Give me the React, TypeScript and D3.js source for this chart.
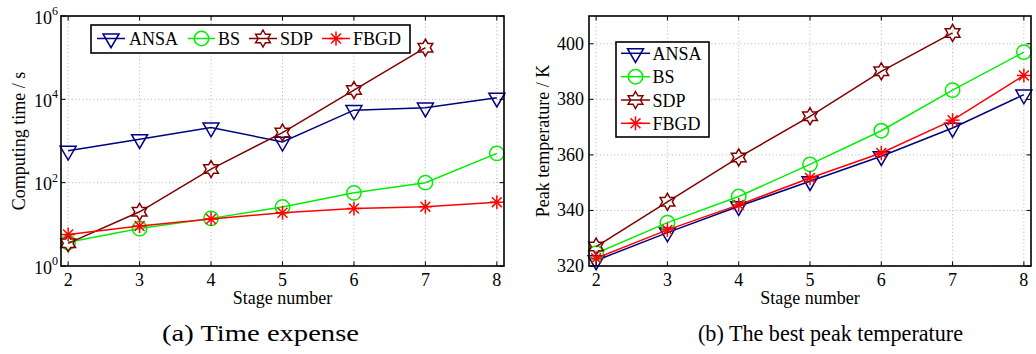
import React from "react";
import * as d3 from "d3";

// Stage numbers on the x axis
const stages = [2, 3, 4, 5, 6, 7, 8];
const sdpStages = [2, 3, 4, 5, 6, 7];

// (a) Computing time in seconds
const timeANSA = [580, 1100, 2100, 950, 5500, 6300, 10900];
const timeBS = [3.7, 7.9, 13.9, 26, 57, 100, 505];
const timeSDP = [3.5, 20, 212, 1590, 16700, 174000];
const timeFBGD = [5.7, 9.1, 13.4, 19, 24, 26.5, 34];

// (b) Best peak temperature in kelvin
const tempANSA = [322, 332, 341.5, 350.5, 359.5, 369.7, 381.7];
const tempBS = [324.6, 335.6, 345, 356.6, 368.7, 383.3, 397];
const tempSDP = [327, 343.1, 359.1, 373.9, 390.1, 403.9];
const tempFBGD = [322.8, 333, 342, 351.7, 360.7, 372.5, 388.6];

// Tick values
const timeExponents = [0, 2, 4, 6];
const tempTicks = [320, 340, 360, 380, 400];

const seriesNames = ["ANSA", "BS", "SDP", "FBGD"];
const seriesColors = ["#000080", "#00ee00", "#800000", "#ff0000"];
const seriesMarkers = ["triangle", "circle", "hexagram", "asterisk"];

const FONT = "'Liberation Serif', 'Times New Roman', serif";

type Pt = [number, number];

function hexagramPath(R: number): string {
  const r = R / Math.sqrt(3);
  const pts: string[] = [];
  for (let i = 0; i < 12; i++) {
    const a = -Math.PI / 2 + (i * Math.PI) / 6;
    const rad = i % 2 === 0 ? R : r;
    pts.push(`${(rad * Math.cos(a)).toFixed(2)},${(rad * Math.sin(a)).toFixed(2)}`);
  }
  return "M" + pts.join("L") + "Z";
}

function Marker({ kind, x, y, color }: { kind: string; x: number; y: number; color: string }) {
  const sw = 1.5;
  if (kind === "triangle") {
    return (
      <path
        d="M-8,-4.6L8,-4.6L0,9.2Z"
        transform={`translate(${x},${y})`}
        fill="none"
        stroke={color}
        strokeWidth={sw}
        strokeLinejoin="miter"
      />
    );
  }
  if (kind === "circle") {
    return <circle cx={x} cy={y} r={7.2} fill="none" stroke={color} strokeWidth={sw} />;
  }
  if (kind === "hexagram") {
    return (
      <path d={hexagramPath(8.5)} transform={`translate(${x},${y})`} fill="none" stroke={color} strokeWidth={sw} />
    );
  }
  // asterisk: plus and cross combined
  const L = 7;
  const D = L * Math.SQRT1_2;
  return (
    <g transform={`translate(${x},${y})`} stroke={color} strokeWidth={sw}>
      <line x1={-L} y1={0} x2={L} y2={0} />
      <line x1={0} y1={-L} x2={0} y2={L} />
      <line x1={-D} y1={-D} x2={D} y2={D} />
      <line x1={-D} y1={D} x2={D} y2={-D} />
    </g>
  );
}

interface Series {
  name: string;
  xs: number[];
  ys: number[];
  color: string;
  marker: string;
}

interface PanelProps {
  left: number;
  right: number;
  top: number;
  bottom: number;
  x: d3.ScaleLinear<number, number>;
  y: (v: number) => number;
  yTicks: number[];
  yLabel: (v: number, py: number) => React.ReactNode;
  series: Series[];
  yTitle: string;
  yTitleX: number;
  legend: React.ReactNode;
}

function Panel(p: PanelProps) {
  const { left, right, top, bottom, x, y } = p;
  const tick = 4.5;
  const line = d3
    .line<Pt>()
    .x((d) => d[0])
    .y((d) => d[1]);
  return (
    <g>
      {/* grid */}
      <g stroke="#a0a0a0" strokeWidth={0.8} strokeDasharray="1 2.6">
        {stages.map((s) => (
          <line key={"gx" + s} x1={x(s)} x2={x(s)} y1={top} y2={bottom} />
        ))}
        {p.yTicks.map((v) => (
          <line key={"gy" + v} x1={left} x2={right} y1={y(v)} y2={y(v)} />
        ))}
      </g>
      {/* data */}
      {p.series.map((s) => {
        const pts: Pt[] = s.xs.map((xv, i) => [x(xv), y(s.ys[i])]);
        return (
          <g key={s.name}>
            <path d={line(pts) || ""} fill="none" stroke={s.color} strokeWidth={1.5} />
            {pts.map((pt, i) => (
              <Marker key={i} kind={s.marker} x={pt[0]} y={pt[1]} color={s.color} />
            ))}
          </g>
        );
      })}
      {/* box */}
      <rect x={left} y={top} width={right - left} height={bottom - top} fill="none" stroke="#000" strokeWidth={1.6} />
      {/* ticks */}
      <g stroke="#000" strokeWidth={1}>
        {stages.map((s) => (
          <g key={"tx" + s}>
            <line x1={x(s)} x2={x(s)} y1={bottom} y2={bottom - tick} />
            <line x1={x(s)} x2={x(s)} y1={top} y2={top + tick} />
          </g>
        ))}
        {p.yTicks.map((v) => (
          <g key={"ty" + v}>
            <line x1={left} x2={left + tick} y1={y(v)} y2={y(v)} />
            <line x1={right} x2={right - tick} y1={y(v)} y2={y(v)} />
          </g>
        ))}
      </g>
      {/* tick labels */}
      <g fontFamily={FONT} fontSize={18} fill="#000">
        {stages.map((s) => (
          <text key={"lx" + s} x={x(s)} y={bottom + 20} textAnchor="middle">
            {s}
          </text>
        ))}
        {p.yTicks.map((v) => (
          <g key={"ly" + v}>{p.yLabel(v, y(v))}</g>
        ))}
        <text x={(left + right) / 2} y={bottom + 38} textAnchor="middle">
          Stage number
        </text>
        <text
          transform={`translate(${p.yTitleX},${(top + bottom) / 2}) rotate(-90)`}
          textAnchor="middle"
        >
          {p.yTitle}
        </text>
      </g>
      {p.legend}
    </g>
  );
}

function LegendEntry({ i, x0, x1, y, textX }: { i: number; x0: number; x1: number; y: number; textX: number }) {
  return (
    <g>
      <line x1={x0} x2={x1} y1={y} y2={y} stroke={seriesColors[i]} strokeWidth={1.5} />
      <Marker kind={seriesMarkers[i]} x={(x0 + x1) / 2} y={y} color={seriesColors[i]} />
      <text x={textX} y={y + 6.5} fontFamily={FONT} fontSize={18} fill="#000">
        {seriesNames[i]}
      </text>
    </g>
  );
}

export default function App() {
  // Panel (a)
  const aL = 61, aR = 504, top = 16, bottom = 266;
  const xa = d3.scaleLinear().domain([1.9, 8.1]).range([aL, aR]);
  const ya = d3.scaleLog().domain([1, 1e6]).range([bottom, top]);
  const timeTicks = timeExponents.map((e) => Math.pow(10, e));
  const timeData = [timeANSA, timeBS, timeSDP, timeFBGD];

  // Panel (b)
  const bL = 589, bR = 1031;
  const xb = d3.scaleLinear().domain([1.9, 8.1]).range([bL, bR]);
  const yb = d3.scaleLinear().domain([320, 410]).range([bottom, top]);
  const tempData = [tempANSA, tempBS, tempSDP, tempFBGD];

  const makeSeries = (data: number[][]): Series[] =>
    data.map((ys, i) => ({
      name: seriesNames[i],
      xs: seriesNames[i] === "SDP" ? sdpStages : stages,
      ys,
      color: seriesColors[i],
      marker: seriesMarkers[i],
    }));

  // horizontal legend for (a)
  const legendA = (
    <g>
      <rect x={91} y={25} width={319} height={28} fill="#fff" stroke="#000" strokeWidth={1.6} />
      <LegendEntry i={0} x0={97} x1={125} y={38.5} textX={129} />
      <LegendEntry i={1} x0={188} x1={215} y={38.5} textX={218} />
      <LegendEntry i={2} x0={249} x1={277} y={38.5} textX={280} />
      <LegendEntry i={3} x0={322} x1={350} y={38.5} textX={353} />
    </g>
  );

  // vertical legend for (b)
  const rows = [53.3, 76.7, 100, 123.3];
  const legendB = (
    <g>
      <rect x={616} y={42} width={93} height={95} fill="#fff" stroke="#000" strokeWidth={1.6} />
      {rows.map((ry, i) => (
        <LegendEntry key={i} i={i} x0={621} x1={650} y={ry} textX={652.5} />
      ))}
    </g>
  );

  return (
    <svg
      width={1036}
      height={354}
      viewBox="0 0 1036 354"
      style={{ position: "absolute", left: 0, top: 0, background: "#fff", display: "block" }}
    >
      <rect width={1036} height={354} fill="#fff" />
      <Panel
        left={aL}
        right={aR}
        top={top}
        bottom={bottom}
        x={xa}
        y={ya}
        yTicks={timeTicks}
        yLabel={(v, py) => (
          <text x={58} y={py + 7.5} textAnchor="end">
            10
            <tspan dy={-8.5} fontSize={12}>
              {Math.round(Math.log10(v))}
            </tspan>
          </text>
        )}
        series={makeSeries(timeData)}
        yTitle="Computing time / s"
        yTitleX={25}
        legend={legendA}
      />
      <Panel
        left={bL}
        right={bR}
        top={top}
        bottom={bottom}
        x={xb}
        y={yb}
        yTicks={tempTicks}
        yLabel={(v, py) => (
          <text x={584} y={py + 6} textAnchor="end">
            {v}
          </text>
        )}
        series={makeSeries(tempData)}
        yTitle="Peak temperature / K"
        yTitleX={549}
        legend={legendB}
      />
      <g fontFamily={FONT} fontSize={23} fill="#000">
        <text x={162} y={341} textLength={197} lengthAdjust="spacingAndGlyphs">
          (a) Time expense
        </text>
        <text x={698} y={341} textLength={265} lengthAdjust="spacingAndGlyphs">
          (b) The best peak temperature
        </text>
      </g>
    </svg>
  );
}
